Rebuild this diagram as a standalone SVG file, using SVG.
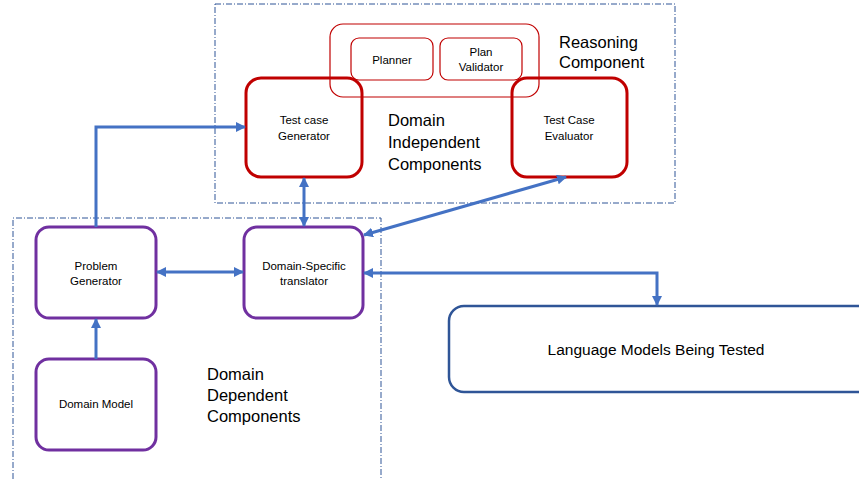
<svg xmlns="http://www.w3.org/2000/svg" width="859" height="479" viewBox="0 0 859 479">
<defs>
<style>
.region{fill:none;stroke:#2F5597;stroke-width:1;stroke-dasharray:6 2 1 2}
.red{fill:none;stroke:#C00000;stroke-width:3}
.redthin{fill:none;stroke:#C00000;stroke-width:1.2}
.purple{fill:none;stroke:#7030A0;stroke-width:3}
.lm{fill:#fff;stroke:#2F5597;stroke-width:2.5}
.conn{fill:none;stroke:#4472C4;stroke-width:3}
text{font-family:"Liberation Sans",Arial,sans-serif;fill:#000}
.s{font-size:11.5px;text-anchor:middle}
.b{font-size:16.5px}
</style>
<marker id="ah" viewBox="0 0 10 10" refX="9" refY="5" markerWidth="10" markerHeight="10" markerUnits="userSpaceOnUse" orient="auto-start-reverse">
<path d="M0,0 L10,5 L0,10 z" fill="#4472C4"/>
</marker>
</defs>
<rect class="region" x="215" y="4" width="460" height="199"/>
<path class="region" d="M13,479 L13,218 L381,218 L381,479"/>
<text class="b" x="559" y="48">Reasoning</text>
<text class="b" x="559" y="68">Component</text>
<text class="b" x="388" y="126">Domain</text>
<text class="b" x="388" y="148">Independent</text>
<text class="b" x="388" y="170">Components</text>
<text class="b" x="207" y="380">Domain</text>
<text class="b" x="207" y="401">Dependent</text>
<text class="b" x="207" y="422">Components</text>
<g id="reasoning">
<rect class="redthin" x="330" y="24" width="209" height="73" rx="13"/>
</g>
<g id="planner">
<rect class="redthin" x="351" y="38" width="82" height="42" rx="8"/>
<text class="s" x="392" y="64">Planner</text>
</g>
<g id="validator">
<rect class="redthin" x="440" y="38" width="82" height="42" rx="8"/>
<text class="s" x="481" y="56">Plan</text>
<text class="s" x="481" y="71">Validator</text>
</g>
<g id="tcgen">
<rect class="red" x="246" y="78" width="116" height="99" rx="15"/>
<text class="s" x="304" y="124">Test case</text>
<text class="s" x="304" y="140">Generator</text>
</g>
<g id="tceval">
<rect class="red" x="512" y="78" width="115" height="99" rx="15"/>
<text class="s" x="569" y="124">Test Case</text>
<text class="s" x="569" y="140">Evaluator</text>
</g>
<g id="probgen">
<rect class="purple" x="36" y="227" width="120" height="91" rx="13"/>
<text class="s" x="96" y="270">Problem</text>
<text class="s" x="96" y="285">Generator</text>
</g>
<g id="translator">
<rect class="purple" x="244" y="227" width="119" height="91" rx="13"/>
<text class="s" x="304" y="270">Domain-Specific</text>
<text class="s" x="304" y="285">translator</text>
</g>
<g id="dommodel">
<rect class="purple" x="36" y="359" width="120" height="91" rx="13"/>
<text class="s" x="96" y="408">Domain Model</text>
</g>
<g id="lm">
<rect class="lm" x="449" y="306" width="430" height="86" rx="15"/>
<text x="656" y="355" style="font-size:15.5px;text-anchor:middle">Language Models Being Tested</text>
</g>
<g id="connectors">
<path class="conn" d="M96,227 L96,127 L245,127" marker-end="url(#ah)"/>
<path class="conn" d="M304,178 L304,226" marker-start="url(#ah)" marker-end="url(#ah)"/>
<path class="conn" d="M566,177 L364,235" marker-start="url(#ah)" marker-end="url(#ah)"/>
<path class="conn" d="M157,272 L243,272" marker-start="url(#ah)" marker-end="url(#ah)"/>
<path class="conn" d="M364,273 L657,273 L657,305" marker-start="url(#ah)" marker-end="url(#ah)"/>
<path class="conn" d="M96,359 L96,319" marker-end="url(#ah)"/>
</g>
</svg>
